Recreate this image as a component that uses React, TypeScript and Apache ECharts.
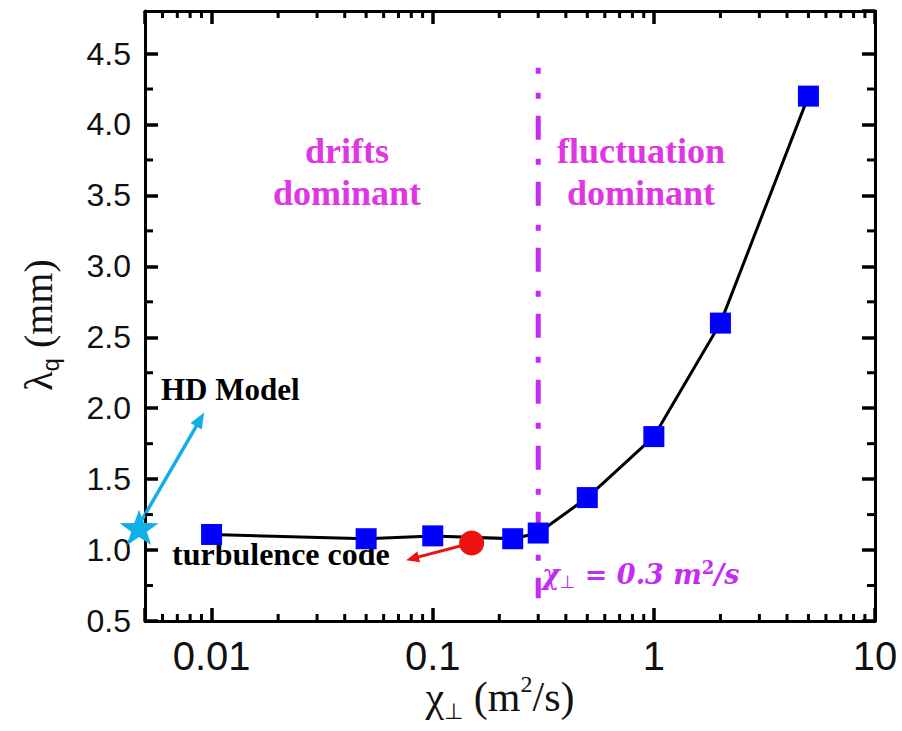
import React, { useEffect, useRef } from 'react';
import * as echarts from 'echarts';

// Heat-flux width vs. perpendicular diffusivity
const chiValues = [0.01, 0.05, 0.1, 0.23, 0.3, 0.5, 1, 2, 5];
const lambdaValues = [1.11, 1.08, 1.1, 1.08, 1.12, 1.37, 1.8, 2.6, 4.2];

// Reference points
const hdModelPoint = [0.0047, 1.16];
const turbulencePoint = [0.15, 1.05];

// Annotation arrows: [xFrom, yFrom, xTo, yTo]
const hdArrow = [0.00423, 1.055, 0.00926, 1.97];
const turbArrow = [0.15, 1.05, 0.0758, 0.929];

// Regime boundary
const thresholdChi = 0.3;
const thresholdSpan = [0.66, 4.4];

// Axes
const xRange = [0.005, 10];
const yRange = [0.5, 4.8];
const yTickStep = 0.5;
const xTickLabels = ['0.01', '0.1', '1', '10']; // decades 10^-2 .. 10^1
const yMinorTicks = [0.75, 1.25, 1.75, 2.25, 2.75, 3.25, 3.75, 4.25];
const xMinorTicks: number[] = [];
for (let e = -3; e <= 0; e++) {
  for (let k = 2; k <= 9; k++) {
    const v = k * Math.pow(10, e);
    if (v > xRange[0] * 1.0001 && v < xRange[1]) xMinorTicks.push(v);
  }
}

const STAR =
  'path://M50 0 L61.76 33.82 L97.55 34.55 L69.02 56.18 L79.39 90.45 L50 70 L20.61 90.45 L30.98 56.18 L2.45 34.55 L38.24 33.82 Z';

const MAGENTA = '#df35e3';
const VIOLET = '#c42cf5';
const CYAN = '#12aee8';
const RED = '#ee1111';
const INK = '#000';

const fmtX = (v: number) => {
  const e = Math.log10(v);
  const r = Math.round(e);
  if (Math.abs(e - r) > 1e-6) return '';
  return xTickLabels[r + 2] ?? '';
};

const arrowRenderer =
  (color: string, width: number, headLen: number, headWid: number) =>
  (params: any, api: any) => {
    const a = api.coord([api.value(0), api.value(1)]);
    const b = api.coord([api.value(2), api.value(3)]);
    const dx = b[0] - a[0];
    const dy = b[1] - a[1];
    const len = Math.hypot(dx, dy) || 1;
    const ux = dx / len;
    const uy = dy / len;
    const bx = b[0] - ux * headLen;
    const by = b[1] - uy * headLen;
    const nx = -uy;
    const ny = ux;
    return {
      type: 'group',
      children: [
        {
          type: 'line',
          shape: { x1: a[0], y1: a[1], x2: bx + ux * 2, y2: by + uy * 2 },
          style: { stroke: color, lineWidth: width },
        },
        {
          type: 'polygon',
          shape: {
            points: [
              [b[0], b[1]],
              [bx + (nx * headWid) / 2, by + (ny * headWid) / 2],
              [bx - (nx * headWid) / 2, by - (ny * headWid) / 2],
            ],
          },
          style: { fill: color },
        },
      ],
    };
  };

// Minor ticks pointing inward from opposite sides of the frame
const xTickRenderer = (len: number) => (params: any, api: any) => {
  const cs = params.coordSys;
  const px = api.coord([api.value(0), api.value(1)])[0];
  const b = cs.y + cs.height;
  const t = cs.y;
  return {
    type: 'group',
    children: [
      { type: 'line', shape: { x1: px, y1: b, x2: px, y2: b - len }, style: { stroke: INK, lineWidth: 3 } },
      { type: 'line', shape: { x1: px, y1: t, x2: px, y2: t + len }, style: { stroke: INK, lineWidth: 3 } },
    ],
  };
};
const yTickRenderer = (len: number) => (params: any, api: any) => {
  const cs = params.coordSys;
  const py = api.coord([api.value(0), api.value(1)])[1];
  const l = cs.x;
  const r = cs.x + cs.width;
  return {
    type: 'group',
    children: [
      { type: 'line', shape: { x1: l, y1: py, x2: l + len, y2: py }, style: { stroke: INK, lineWidth: 3 } },
      { type: 'line', shape: { x1: r, y1: py, x2: r - len, y2: py }, style: { stroke: INK, lineWidth: 3 } },
    ],
  };
};

export default function App() {
  const ref = useRef<HTMLDivElement>(null);

  useEffect(() => {
    if (!ref.current) return;
    const chart = echarts.init(ref.current, undefined, { renderer: 'svg' });

    const mkLine = () => ({ show: true, onZero: false, lineStyle: { color: INK, width: 3 } });
    const mkTick = () => ({ show: true, inside: true, length: 13, lineStyle: { color: INK, width: 3.5 } });

    const textStyle = (size: number, color: string, align: string) => ({
      fontFamily: '"Liberation Serif", "Times New Roman", serif',
      fontWeight: 'bold',
      fontSize: size,
      fill: color,
      align,
      verticalAlign: 'middle',
      textAlign: align,
      textVerticalAlign: 'middle',
    });

    chart.setOption({
      animation: false,
      grid: { left: 145, right: 27, top: 11, bottom: 110 },
      xAxis: [
        {
          type: 'log',
          min: xRange[0],
          max: xRange[1],
          position: 'bottom',
          splitLine: { show: false },
          axisLine: mkLine(),
          axisTick: mkTick(),
          axisLabel: {
            show: true,
            formatter: fmtX,
            fontFamily: '"Liberation Sans", Arial, sans-serif',
            fontSize: 40,
            color: '#111',
            margin: 15,
          },
        },
        {
          type: 'log',
          min: xRange[0],
          max: xRange[1],
          position: 'top',
          splitLine: { show: false },
          axisLine: mkLine(),
          axisTick: mkTick(),
          axisLabel: { show: false },
        },
      ],
      yAxis: [
        {
          type: 'value',
          min: yRange[0],
          max: yRange[1],
          interval: yTickStep,
          position: 'left',
          splitLine: { show: false },
          axisLine: mkLine(),
          axisTick: mkTick(),
          axisLabel: {
            show: true,
            showMaxLabel: false,
            formatter: (v: number) =>
              Math.abs(v / yTickStep - Math.round(v / yTickStep)) < 1e-6 ? v.toFixed(1) : '',
            fontFamily: '"Liberation Sans", Arial, sans-serif',
            fontSize: 32,
            color: '#111',
            margin: 14,
          },
        },
        {
          type: 'value',
          min: yRange[0],
          max: yRange[1],
          interval: yTickStep,
          position: 'right',
          splitLine: { show: false },
          axisLine: mkLine(),
          axisTick: mkTick(),
          axisLabel: { show: false },
        },
      ],
      series: [
        {
          type: 'custom',
          name: 'x minor ticks',
          silent: true,
          z: 10,
          data: xMinorTicks.map((v) => [v, 1]),
          renderItem: xTickRenderer(7),
        },
        {
          type: 'custom',
          name: 'y minor ticks',
          silent: true,
          z: 10,
          data: yMinorTicks.map((v) => [1, v]),
          renderItem: yTickRenderer(8),
        },
        {
          type: 'custom',
          name: 'boundary',
          silent: true,
          z: 2,
          data: [[thresholdChi, thresholdSpan[0], thresholdSpan[1]]],
          renderItem: (params: any, api: any) => {
            const top = api.coord([api.value(0), api.value(2)]);
            const bot = api.coord([api.value(0), api.value(1)]);
            return {
              type: 'line',
              shape: { x1: top[0], y1: top[1], x2: bot[0], y2: bot[1] },
              style: { stroke: VIOLET, lineWidth: 5, lineDash: [24, 19, 6, 17], lineDashOffset: 18 },
            };
          },
        },
        {
          type: 'line',
          name: 'lambda_q',
          z: 5,
          data: chiValues.map((x, i) => [x, lambdaValues[i]]),
          symbol: 'rect',
          symbolSize: 21,
          itemStyle: { color: '#0000ff', opacity: 1 },
          lineStyle: { color: INK, width: 3 },
        },
        {
          type: 'custom',
          name: 'turbulence arrow',
          silent: true,
          z: 6,
          data: [turbArrow],
          renderItem: arrowRenderer(RED, 3, 13, 11),
        },
        {
          type: 'scatter',
          name: 'turbulence code',
          z: 7,
          data: [turbulencePoint],
          symbol: 'circle',
          symbolSize: 25,
          itemStyle: { color: RED, opacity: 1 },
        },
        {
          type: 'custom',
          name: 'HD arrow',
          silent: true,
          z: 6,
          data: [hdArrow],
          renderItem: arrowRenderer(CYAN, 3.5, 16, 13),
        },
        {
          type: 'scatter',
          name: 'HD Model',
          z: 7,
          clip: false,
          data: [hdModelPoint],
          symbol: STAR,
          symbolKeepAspect: true,
          symbolSize: [39, 37],
          itemStyle: { color: CYAN, opacity: 1 },
        },
      ],
      graphic: [
        { type: 'text', x: 347, y: 151, style: { text: 'drifts', ...textStyle(36, MAGENTA, 'center') } },
        { type: 'text', x: 347, y: 193, style: { text: 'dominant', ...textStyle(36, MAGENTA, 'center') } },
        { type: 'text', x: 641, y: 151, style: { text: 'fluctuation', ...textStyle(36, MAGENTA, 'center') } },
        { type: 'text', x: 641, y: 193, style: { text: 'dominant', ...textStyle(36, MAGENTA, 'center') } },
        { type: 'text', x: 161, y: 389, style: { text: 'HD Model', ...textStyle(31, INK, 'left') } },
        { type: 'text', x: 172, y: 554, style: { text: 'turbulence code', ...textStyle(32, INK, 'left') } },
        {
          type: 'text',
          x: 542,
          y: 574,
          style: {
            text: '{a|χ}{s|⊥}{a| = 0.3 m}{p|2}{a|/s}',
            fill: VIOLET,
            align: 'left',
            verticalAlign: 'middle',
            textAlign: 'left',
            textVerticalAlign: 'middle',
            rich: {
              a: { fontFamily: '"DejaVu Serif", serif', fontStyle: 'italic', fontWeight: 'bold', fontSize: 27, lineHeight: 32, fill: VIOLET, verticalAlign: 'middle' },
              s: { fontFamily: '"DejaVu Sans", sans-serif', fontSize: 18, lineHeight: 18, fill: VIOLET, verticalAlign: 'bottom' },
              p: { fontFamily: '"DejaVu Serif", serif', fontWeight: 'bold', fontSize: 18, lineHeight: 18, fill: VIOLET, verticalAlign: 'top' },
            },
          },
        },
        {
          type: 'text',
          x: 500,
          y: 697,
          style: {
            text: '{a|χ}{s|⊥}{a| (m}{p|2}{a|/s)}',
            fill: '#111',
            align: 'center',
            verticalAlign: 'middle',
            textAlign: 'center',
            textVerticalAlign: 'middle',
            rich: {
              a: { fontFamily: '"Liberation Serif", "Times New Roman", serif', fontSize: 42, lineHeight: 50, fill: '#111', verticalAlign: 'middle' },
              s: { fontFamily: '"DejaVu Sans", sans-serif', fontSize: 22, lineHeight: 22, fill: '#111', verticalAlign: 'bottom' },
              p: { fontFamily: '"Liberation Serif", "Times New Roman", serif', fontSize: 24, lineHeight: 24, fill: '#111', verticalAlign: 'top' },
            },
          },
        },
        {
          type: 'text',
          x: 38,
          y: 325,
          rotation: Math.PI / 2,
          style: {
            text: '{a|λ}{s|q}{a| (mm)}',
            fill: '#111',
            align: 'center',
            verticalAlign: 'middle',
            textAlign: 'center',
            textVerticalAlign: 'middle',
            rich: {
              a: { fontFamily: '"Liberation Serif", "Times New Roman", serif', fontSize: 40, lineHeight: 48, fill: '#111', verticalAlign: 'middle' },
              s: { fontFamily: '"Liberation Sans", Arial, sans-serif', fontSize: 24, lineHeight: 24, fill: '#111', verticalAlign: 'bottom' },
            },
          },
        },
      ],
    });

    return () => chart.dispose();
  }, []);

  return (
    <div
      ref={ref}
      style={{ position: 'absolute', left: 0, top: 0, width: 902, height: 731 }}
    />
  );
}
